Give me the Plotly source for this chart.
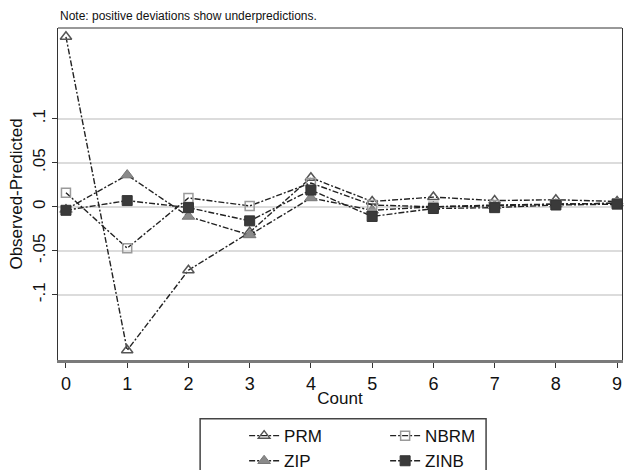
import plotly.graph_objects as go

counts = [0, 1, 2, 3, 4, 5, 6, 7, 8, 9]
prm = [0.193, -0.163, -0.072, -0.029, 0.033, 0.006, 0.011, 0.007, 0.008, 0.006]
zip_ = [-0.003, 0.036, -0.011, -0.032, 0.010, -0.004, 0.000, 0.001, 0.003, 0.004]
nbrm = [0.016, -0.047, 0.010, 0.001, 0.027, 0.002, 0.000, 0.002, 0.003, 0.004]
zinb = [-0.004, 0.007, -0.001, -0.016, 0.019, -0.011, -0.002, -0.001, 0.002, 0.003]

ytick_vals = [-0.1, -0.05, 0, 0.05, 0.1]
ytick_text = ["-.1", "-.05", "0", ".05", ".1"]

line_style = dict(color="#222222", width=1.4, dash="6px,2px,2px,2px")
fig = go.Figure()
series = [
    ("PRM", prm, dict(symbol="triangle-up-open", size=10, color="#555555", line=dict(width=1.5, color="#555555")), "legend"),
    ("ZIP", zip_, dict(symbol="triangle-up", size=11, color="#8a8a8a", line=dict(width=1, color="#777777")), "legend"),
    ("NBRM", nbrm, dict(symbol="square-open", size=9, color="#9a9a9a", line=dict(width=1.5, color="#9a9a9a")), "legend2"),
    ("ZINB", zinb, dict(symbol="square", size=10, color="#3a3a3a", line=dict(width=1, color="#333333")), "legend2"),
]
for name, vals, mk, lg in series:
    fig.add_trace(go.Scatter(x=counts, y=vals, name=name, mode="lines+markers",
                             line=line_style, marker=mk, legend=lg, cliponaxis=False))

legend_common = dict(orientation="v", bgcolor="rgba(0,0,0,0)", borderwidth=0,
                     font=dict(family="Liberation Sans, Arial", size=17, color="#111111"),
                     yanchor="top", xanchor="left", tracegroupgap=0)

fig.update_layout(
    width=625, height=470,
    margin=dict(l=58, r=3, t=28, b=110, autoexpand=False),
    paper_bgcolor="white", plot_bgcolor="white",
    font=dict(family="Liberation Sans, Arial", color="#111111"),
    legend=dict(x=0.33, y=-0.175, **legend_common),
    legend2=dict(x=0.58, y=-0.175, **legend_common),
    xaxis=dict(range=[-0.13, 9.08], tickvals=counts, ticktext=[str(c) for c in counts],
               automargin=False,
               showgrid=False, zeroline=False, showline=True, linecolor="#7a7a7a", linewidth=3,
               mirror=False, ticks="outside", ticklen=5, tickcolor="#333333",
               ticklabeloverflow="allow",
               tickfont=dict(size=18, color="#111111"),
               title=dict(text="Count", font=dict(size=17, color="#111111"), standoff=0)),
    yaxis=dict(range=[-0.174, 0.203], tickvals=ytick_vals, ticktext=ytick_text, tickangle=-90,
               automargin=False,
               showgrid=True, gridcolor="#dcdcdc", gridwidth=1.5,
               zeroline=True, zerolinecolor="#dcdcdc", zerolinewidth=1.5,
               showline=True, linecolor="#333333", linewidth=1, mirror=True,
               ticks="outside", ticklen=5, tickcolor="#333333",
               tickfont=dict(size=17, color="#111111"),
               title=dict(text="Observed-Predicted", font=dict(size=17, color="#111111"), standoff=3)),
    annotations=[dict(text="Note: positive deviations show underpredictions.", xref="paper", yref="paper",
                      x=0, y=1, xanchor="left", yanchor="bottom", yshift=3, showarrow=False,
                      font=dict(size=12, color="#111111"))],
    shapes=[
        dict(type="rect", xref="paper", yref="paper", x0=0.252, x1=0.759, y0=-0.36, y1=-0.177,
             line=dict(color="#444444", width=1.5)),
        dict(type="line", xref="paper", yref="paper", x0=0, x1=1, y0=1, y1=1,
             line=dict(color="#333333", width=1)),
    ],
)

fig.write_html("out.html", config={"displayModeBar": False},
               post_script="document.body.style.margin='0';document.body.style.overflow='hidden';")
